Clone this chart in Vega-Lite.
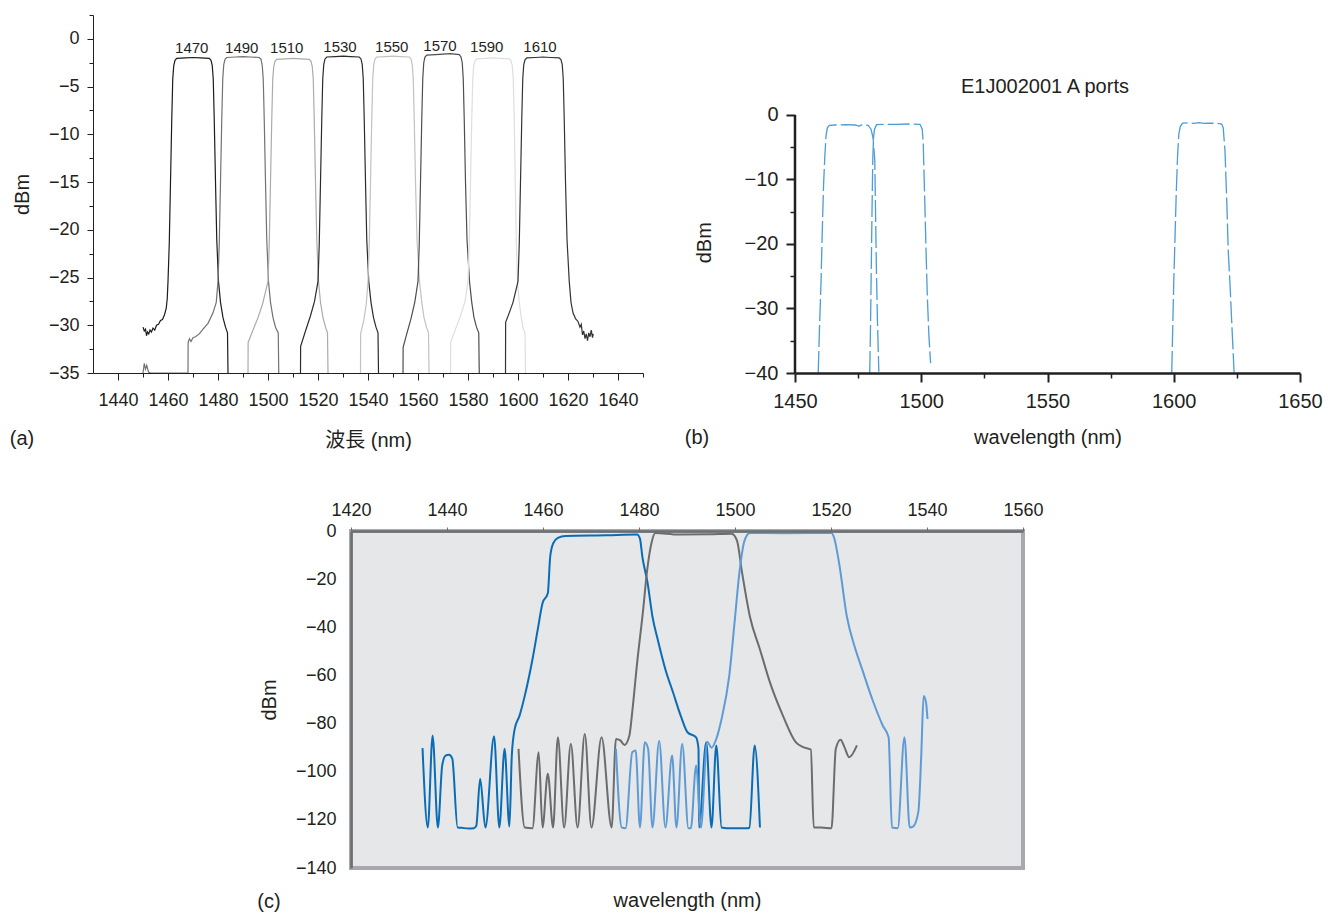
{
"$schema": "https://vega.github.io/schema/vega-lite/v6.json",
"background": "white",
"padding": {"left": 9, "top": 14, "right": 2, "bottom": 2},
"config": {
  "font": "Liberation Sans",
  "view": {"stroke": null},
  "axis": {"labelColor": "#231f20", "titleColor": "#231f20", "domainColor": "#231f20", "tickColor": "#231f20", "grid": false, "labelFont": "Liberation Sans", "titleFont": "Liberation Sans", "titleFontWeight": "normal", "labelFlush": false, "labelOverlap": false}
},
"datasets": {
  "a": [
    {"s":"1470","x":1450,"y":-30.2},{"s":"1470","x":1450.5,"y":-30.6},{"s":"1470","x":1451,"y":-30.4},{"s":"1470","x":1451.4,"y":-31.1},{"s":"1470","x":1451.8,"y":-30.7},{"s":"1470","x":1452.3,"y":-30.9},{"s":"1470","x":1452.8,"y":-30.5},{"s":"1470","x":1453.4,"y":-30.7},{"s":"1470","x":1454,"y":-30.3},{"s":"1470","x":1454.7,"y":-30.5},{"s":"1470","x":1455.4,"y":-30.0},{"s":"1470","x":1456.2,"y":-29.9},{"s":"1470","x":1457,"y":-29.5},{"s":"1470","x":1457.8,"y":-29.4},{"s":"1470","x":1458.6,"y":-28.9},{"s":"1470","x":1459.3,"y":-28.2},{"s":"1470","x":1459.7,"y":-27.2},{"s":"1470","x":1460,"y":-25.4},{"s":"1470","x":1460.5,"y":-21.5},{"s":"1470","x":1461,"y":-15},{"s":"1470","x":1461.5,"y":-8.5},{"s":"1470","x":1461.9,"y":-4.2},{"s":"1470","x":1462.3,"y":-2.8},{"s":"1470","x":1462.8,"y":-2.25},{"s":"1470","x":1463.5,"y":-2.05},{"s":"1470","x":1467,"y":-2.0},{"s":"1470","x":1470,"y":-1.95},{"s":"1470","x":1473,"y":-2.0},{"s":"1470","x":1476.5,"y":-2.05},{"s":"1470","x":1477.2,"y":-2.25},{"s":"1470","x":1477.7,"y":-2.8},{"s":"1470","x":1478.1,"y":-4.2},{"s":"1470","x":1478.5,"y":-8.5},{"s":"1470","x":1479,"y":-15},{"s":"1470","x":1479.5,"y":-21},{"s":"1470","x":1480.2,"y":-25.4},{"s":"1470","x":1481,"y":-27.6},{"s":"1470","x":1482,"y":-29.2},{"s":"1470","x":1483,"y":-30.2},{"s":"1470","x":1483.8,"y":-30.8},{"s":"1470","x":1484,"y":-35},
    {"s":"1490","x":1450,"y":-35},{"s":"1490","x":1450.5,"y":-34.0},{"s":"1490","x":1451,"y":-34.6},{"s":"1490","x":1451.5,"y":-34.2},{"s":"1490","x":1452.2,"y":-34.9},{"s":"1490","x":1453,"y":-35},{"s":"1490","x":1468,"y":-35},{"s":"1490","x":1468.05,"y":-31.8},{"s":"1490","x":1468.6,"y":-31.4},{"s":"1490","x":1469.2,"y":-31.7},{"s":"1490","x":1470,"y":-31.3},{"s":"1490","x":1471,"y":-31.2},{"s":"1490","x":1472.5,"y":-30.9},{"s":"1490","x":1474,"y":-30.4},{"s":"1490","x":1476,"y":-29.8},{"s":"1490","x":1478,"y":-28.7},{"s":"1490","x":1479.3,"y":-27.6},{"s":"1490","x":1480,"y":-25.4},{"s":"1490","x":1480.5,"y":-21.5},{"s":"1490","x":1481,"y":-15},{"s":"1490","x":1481.5,"y":-8.5},{"s":"1490","x":1481.9,"y":-4.2},{"s":"1490","x":1482.3,"y":-2.7},{"s":"1490","x":1482.8,"y":-2.15},{"s":"1490","x":1483.5,"y":-1.95},{"s":"1490","x":1487,"y":-1.9},{"s":"1490","x":1490,"y":-1.85},{"s":"1490","x":1493,"y":-1.9},{"s":"1490","x":1496.5,"y":-1.95},{"s":"1490","x":1497.2,"y":-2.15},{"s":"1490","x":1497.7,"y":-2.8},{"s":"1490","x":1498.1,"y":-4.2},{"s":"1490","x":1498.5,"y":-8.5},{"s":"1490","x":1499,"y":-15},{"s":"1490","x":1499.5,"y":-21},{"s":"1490","x":1500.2,"y":-25.4},{"s":"1490","x":1501,"y":-27.6},{"s":"1490","x":1502,"y":-29.2},{"s":"1490","x":1503,"y":-30.2},{"s":"1490","x":1504.1,"y":-30.8},{"s":"1490","x":1504.3,"y":-35},
    {"s":"1510","x":1492,"y":-35},{"s":"1510","x":1492.05,"y":-31.8},{"s":"1510","x":1494,"y":-30.5},{"s":"1510","x":1496,"y":-29.2},{"s":"1510","x":1497.8,"y":-27.8},{"s":"1510","x":1499,"y":-26.5},{"s":"1510","x":1500,"y":-25.4},{"s":"1510","x":1500.5,"y":-21.5},{"s":"1510","x":1501,"y":-15},{"s":"1510","x":1501.5,"y":-8.5},{"s":"1510","x":1501.9,"y":-4.2},{"s":"1510","x":1502.3,"y":-2.9},{"s":"1510","x":1502.8,"y":-2.35},{"s":"1510","x":1503.5,"y":-2.15},{"s":"1510","x":1507,"y":-2.1},{"s":"1510","x":1510,"y":-2.05},{"s":"1510","x":1513,"y":-2.1},{"s":"1510","x":1516.5,"y":-2.15},{"s":"1510","x":1517.2,"y":-2.35},{"s":"1510","x":1517.7,"y":-2.9},{"s":"1510","x":1518.1,"y":-4.2},{"s":"1510","x":1518.5,"y":-8.5},{"s":"1510","x":1519,"y":-15},{"s":"1510","x":1519.5,"y":-21},{"s":"1510","x":1520.2,"y":-25.4},{"s":"1510","x":1521,"y":-27.6},{"s":"1510","x":1522,"y":-29.2},{"s":"1510","x":1523,"y":-30.2},{"s":"1510","x":1523.8,"y":-30.8},{"s":"1510","x":1524,"y":-35},
    {"s":"1530","x":1513,"y":-35},{"s":"1530","x":1513.05,"y":-32.2},{"s":"1530","x":1515,"y":-30.6},{"s":"1530","x":1517,"y":-29},{"s":"1530","x":1518.6,"y":-27.5},{"s":"1530","x":1520,"y":-25.4},{"s":"1530","x":1520.5,"y":-21.5},{"s":"1530","x":1521,"y":-15},{"s":"1530","x":1521.5,"y":-8.5},{"s":"1530","x":1521.9,"y":-4.2},{"s":"1530","x":1522.3,"y":-2.7},{"s":"1530","x":1522.8,"y":-2.1},{"s":"1530","x":1523.5,"y":-1.9},{"s":"1530","x":1527,"y":-1.85},{"s":"1530","x":1530,"y":-1.8},{"s":"1530","x":1533,"y":-1.85},{"s":"1530","x":1536.5,"y":-1.9},{"s":"1530","x":1537.2,"y":-2.1},{"s":"1530","x":1537.7,"y":-2.7},{"s":"1530","x":1538.1,"y":-4.2},{"s":"1530","x":1538.5,"y":-8.5},{"s":"1530","x":1539,"y":-15},{"s":"1530","x":1539.5,"y":-21},{"s":"1530","x":1540.3,"y":-25.4},{"s":"1530","x":1541.2,"y":-27.6},{"s":"1530","x":1542.2,"y":-29.2},{"s":"1530","x":1543.2,"y":-30.2},{"s":"1530","x":1544,"y":-30.8},{"s":"1530","x":1544.2,"y":-35},
    {"s":"1550","x":1537,"y":-35},{"s":"1550","x":1537.05,"y":-30.9},{"s":"1550","x":1538.3,"y":-29.5},{"s":"1550","x":1539.3,"y":-27.8},{"s":"1550","x":1540,"y":-25.4},{"s":"1550","x":1540.5,"y":-21.5},{"s":"1550","x":1541,"y":-15},{"s":"1550","x":1541.5,"y":-8.5},{"s":"1550","x":1541.9,"y":-4.2},{"s":"1550","x":1542.3,"y":-2.7},{"s":"1550","x":1542.8,"y":-2.1},{"s":"1550","x":1543.5,"y":-1.9},{"s":"1550","x":1547,"y":-1.85},{"s":"1550","x":1550,"y":-1.8},{"s":"1550","x":1553,"y":-1.85},{"s":"1550","x":1556.5,"y":-1.9},{"s":"1550","x":1557.2,"y":-2.1},{"s":"1550","x":1557.7,"y":-2.7},{"s":"1550","x":1558.1,"y":-4.2},{"s":"1550","x":1558.5,"y":-8.5},{"s":"1550","x":1559,"y":-15},{"s":"1550","x":1559.6,"y":-21},{"s":"1550","x":1560.6,"y":-25.4},{"s":"1550","x":1561.5,"y":-27.6},{"s":"1550","x":1562.4,"y":-29.2},{"s":"1550","x":1563.4,"y":-30.2},{"s":"1550","x":1564.2,"y":-30.8},{"s":"1550","x":1564.4,"y":-35},
    {"s":"1570","x":1554,"y":-35},{"s":"1570","x":1554.05,"y":-32.3},{"s":"1570","x":1555.5,"y":-30.9},{"s":"1570","x":1557.2,"y":-29.3},{"s":"1570","x":1558.7,"y":-27.6},{"s":"1570","x":1560,"y":-25.4},{"s":"1570","x":1560.5,"y":-21.5},{"s":"1570","x":1561,"y":-15},{"s":"1570","x":1561.5,"y":-8.5},{"s":"1570","x":1561.9,"y":-4.2},{"s":"1570","x":1562.3,"y":-2.5},{"s":"1570","x":1562.8,"y":-1.9},{"s":"1570","x":1563.5,"y":-1.7},{"s":"1570","x":1567,"y":-1.65},{"s":"1570","x":1570,"y":-1.6},{"s":"1570","x":1573,"y":-1.55},{"s":"1570","x":1576.5,"y":-1.65},{"s":"1570","x":1577.2,"y":-1.9},{"s":"1570","x":1577.7,"y":-2.5},{"s":"1570","x":1578.1,"y":-4.2},{"s":"1570","x":1578.5,"y":-8.5},{"s":"1570","x":1579,"y":-15},{"s":"1570","x":1579.6,"y":-21},{"s":"1570","x":1580.6,"y":-25.4},{"s":"1570","x":1581.5,"y":-27.6},{"s":"1570","x":1582.4,"y":-29.2},{"s":"1570","x":1583.4,"y":-30.2},{"s":"1570","x":1584.3,"y":-30.8},{"s":"1570","x":1584.5,"y":-35},
    {"s":"1590","x":1573,"y":-35},{"s":"1590","x":1573.05,"y":-31.8},{"s":"1590","x":1575,"y":-30.4},{"s":"1590","x":1577,"y":-29},{"s":"1590","x":1578.8,"y":-27.5},{"s":"1590","x":1580,"y":-25.4},{"s":"1590","x":1580.5,"y":-21.5},{"s":"1590","x":1581,"y":-15},{"s":"1590","x":1581.5,"y":-8.5},{"s":"1590","x":1581.9,"y":-4.2},{"s":"1590","x":1582.3,"y":-2.8},{"s":"1590","x":1582.8,"y":-2.3},{"s":"1590","x":1583.5,"y":-2.1},{"s":"1590","x":1587,"y":-2.05},{"s":"1590","x":1590,"y":-2.0},{"s":"1590","x":1593,"y":-2.05},{"s":"1590","x":1596.5,"y":-2.1},{"s":"1590","x":1597.2,"y":-2.3},{"s":"1590","x":1597.7,"y":-2.8},{"s":"1590","x":1598.1,"y":-4.2},{"s":"1590","x":1598.5,"y":-8.5},{"s":"1590","x":1598.9,"y":-15},{"s":"1590","x":1599.3,"y":-21},{"s":"1590","x":1599.8,"y":-25.4},{"s":"1590","x":1600.5,"y":-27.6},{"s":"1590","x":1601.3,"y":-29.2},{"s":"1590","x":1602.1,"y":-30.4},{"s":"1590","x":1602.8,"y":-30.8},{"s":"1590","x":1603,"y":-35},
    {"s":"1610","x":1595,"y":-35},{"s":"1610","x":1595.05,"y":-29.7},{"s":"1610","x":1596.5,"y":-28.7},{"s":"1610","x":1598,"y":-27.6},{"s":"1610","x":1599.2,"y":-26.3},{"s":"1610","x":1600,"y":-25.4},{"s":"1610","x":1600.5,"y":-21.5},{"s":"1610","x":1601,"y":-15},{"s":"1610","x":1601.5,"y":-8.5},{"s":"1610","x":1601.9,"y":-4.2},{"s":"1610","x":1602.3,"y":-2.7},{"s":"1610","x":1602.8,"y":-2.2},{"s":"1610","x":1603.5,"y":-2.0},{"s":"1610","x":1607,"y":-1.95},{"s":"1610","x":1610,"y":-1.9},{"s":"1610","x":1613,"y":-1.95},{"s":"1610","x":1616.5,"y":-2.0},{"s":"1610","x":1617.2,"y":-2.2},{"s":"1610","x":1617.7,"y":-2.7},{"s":"1610","x":1618.1,"y":-4.2},{"s":"1610","x":1618.5,"y":-8.5},{"s":"1610","x":1619,"y":-15},{"s":"1610","x":1619.6,"y":-21},{"s":"1610","x":1620.5,"y":-25.4},{"s":"1610","x":1621.2,"y":-27.6},{"s":"1610","x":1622,"y":-28.7},{"s":"1610","x":1623,"y":-29.3},{"s":"1610","x":1624,"y":-29.6},{"s":"1610","x":1624.8,"y":-30.2},{"s":"1610","x":1625.3,"y":-29.9},{"s":"1610","x":1625.8,"y":-31.0},{"s":"1610","x":1626.3,"y":-30.6},{"s":"1610","x":1626.8,"y":-31.4},{"s":"1610","x":1627.3,"y":-30.9},{"s":"1610","x":1627.8,"y":-31.6},{"s":"1610","x":1628.3,"y":-30.8},{"s":"1610","x":1628.8,"y":-31.2},{"s":"1610","x":1629.3,"y":-30.5},{"s":"1610","x":1629.8,"y":-31.3},{"s":"1610","x":1630.1,"y":-30.9}
  ],
  "alab": [
    {"x":1469.5,"y":-1.0,"t":"1470"},{"x":1489.5,"y":-1.0,"t":"1490"},{"x":1507.5,"y":-1.0,"t":"1510"},{"x":1528.8,"y":-0.8,"t":"1530"},{"x":1549.5,"y":-0.8,"t":"1550"},{"x":1568.8,"y":-0.7,"t":"1570"},{"x":1587.5,"y":-0.8,"t":"1590"},{"x":1608.8,"y":-0.8,"t":"1610"}
  ],
  "b": [
    {"s":"1","x":1459.2,"y":-40},{"s":"1","x":1459.7,"y":-33},{"s":"1","x":1460.3,"y":-26},{"s":"1","x":1460.8,"y":-18},{"s":"1","x":1461.3,"y":-11},{"s":"1","x":1461.8,"y":-6.5},{"s":"1","x":1462.3,"y":-3.2},{"s":"1","x":1462.8,"y":-2.0},{"s":"1","x":1463.6,"y":-1.6},{"s":"1","x":1466,"y":-1.55},{"s":"1","x":1470,"y":-1.5},{"s":"1","x":1474,"y":-1.55},{"s":"1","x":1475.3,"y":-1.75},{"s":"1","x":1476.3,"y":-1.55},{"s":"1","x":1479,"y":-1.6},{"s":"1","x":1480.1,"y":-2.2},{"s":"1","x":1480.9,"y":-3.5},{"s":"1","x":1481.6,"y":-7},{"s":"1","x":1481.9,"y":-15},{"s":"1","x":1482.2,"y":-23},{"s":"1","x":1482.6,"y":-31},{"s":"1","x":1483.2,"y":-39.8},
    {"s":"2","x":1479.6,"y":-40},{"s":"2","x":1479.9,"y":-33},{"s":"2","x":1480.2,"y":-24},{"s":"2","x":1480.5,"y":-15},{"s":"2","x":1480.8,"y":-7},{"s":"2","x":1481.1,"y":-3.5},{"s":"2","x":1481.5,"y":-2.2},{"s":"2","x":1482.3,"y":-1.5},{"s":"2","x":1485,"y":-1.45},{"s":"2","x":1490,"y":-1.45},{"s":"2","x":1495,"y":-1.4},{"s":"2","x":1499.5,"y":-1.45},{"s":"2","x":1500.4,"y":-2.2},{"s":"2","x":1500.8,"y":-4.5},{"s":"2","x":1501.1,"y":-9},{"s":"2","x":1501.5,"y":-15},{"s":"2","x":1501.9,"y":-21},{"s":"2","x":1502.4,"y":-28},{"s":"2","x":1503,"y":-34},{"s":"2","x":1503.7,"y":-38.5},
    {"s":"3","x":1599.2,"y":-40},{"s":"3","x":1599.6,"y":-33},{"s":"3","x":1600,"y":-26},{"s":"3","x":1600.5,"y":-19},{"s":"3","x":1601,"y":-12},{"s":"3","x":1601.5,"y":-6.5},{"s":"3","x":1602,"y":-3},{"s":"3","x":1602.6,"y":-1.8},{"s":"3","x":1603.5,"y":-1.25},{"s":"3","x":1606,"y":-1.2},{"s":"3","x":1608,"y":-1.3},{"s":"3","x":1610,"y":-1.2},{"s":"3","x":1612,"y":-1.3},{"s":"3","x":1614,"y":-1.25},{"s":"3","x":1617,"y":-1.3},{"s":"3","x":1619,"y":-1.4},{"s":"3","x":1619.6,"y":-2},{"s":"3","x":1620.3,"y":-5.6},{"s":"3","x":1621,"y":-13.4},{"s":"3","x":1621.6,"y":-21.2},{"s":"3","x":1622.3,"y":-26.4},{"s":"3","x":1622.9,"y":-31.6},{"s":"3","x":1623.9,"y":-39.9}
  ],
  "c": [
    {"s":"c1470","x":1434.9,"y":-90.2},{"s":"c1470","x":1436,"y":-123.2},{"s":"c1470","x":1437,"y":-85},{"s":"c1470","x":1438.1,"y":-123.2},{"s":"c1470","x":1439,"y":-97.4},{"s":"c1470","x":1439.7,"y":-93.3},{"s":"c1470","x":1440.4,"y":-93},{"s":"c1470","x":1441.1,"y":-94.6},{"s":"c1470","x":1442.2,"y":-123.2},{"s":"c1470","x":1443,"y":-123.3},{"s":"c1470","x":1444.5,"y":-123.6},{"s":"c1470","x":1445.6,"y":-123.5},{"s":"c1470","x":1446.1,"y":-122.5},{"s":"c1470","x":1446.9,"y":-102.9},{"s":"c1470","x":1448,"y":-123.2},{"s":"c1470","x":1449.8,"y":-85.3},{"s":"c1470","x":1450.9,"y":-123.2},{"s":"c1470","x":1452,"y":-90.5},{"s":"c1470","x":1453,"y":-122.8},{"s":"c1470","x":1453.5,"y":-93.3},{"s":"c1470","x":1454.1,"y":-82.3},{"s":"c1470","x":1455.1,"y":-76.8},{"s":"c1470","x":1456.2,"y":-68.5},{"s":"c1470","x":1457.8,"y":-53.4},{"s":"c1470","x":1458.9,"y":-41},{"s":"c1470","x":1459.9,"y":-30},{"s":"c1470","x":1461,"y":-25.9},{"s":"c1470","x":1461.5,"y":-10.7},{"s":"c1470","x":1462.1,"y":-5.2},{"s":"c1470","x":1463.1,"y":-2.9},{"s":"c1470","x":1464.7,"y":-2.1},{"s":"c1470","x":1473.2,"y":-1.8},{"s":"c1470","x":1479.6,"y":-1.5},{"s":"c1470","x":1480.2,"y":-3.2},{"s":"c1470","x":1480.7,"y":-10.7},{"s":"c1470","x":1481.8,"y":-21.7},{"s":"c1470","x":1482.8,"y":-35.5},{"s":"c1470","x":1483.9,"y":-45.1},{"s":"c1470","x":1485.5,"y":-57.5},{"s":"c1470","x":1487.1,"y":-67.1},{"s":"c1470","x":1488.7,"y":-76.8},{"s":"c1470","x":1490.1,"y":-83.6},{"s":"c1470","x":1491.9,"y":-85.7},{"s":"c1470","x":1492.4,"y":-90.5},{"s":"c1470","x":1492.5,"y":-123.2},{"s":"c1470","x":1494,"y":-87.8},{"s":"c1470","x":1495.1,"y":-123.2},{"s":"c1470","x":1496.1,"y":-89.1},{"s":"c1470","x":1497.2,"y":-123.2},{"s":"c1470","x":1498.3,"y":-123.5},{"s":"c1470","x":1502.5,"y":-123.5},{"s":"c1470","x":1503,"y":-123.2},{"s":"c1470","x":1504.1,"y":-89.1},{"s":"c1470","x":1505.2,"y":-123.2},
    {"s":"c1490","x":1454.9,"y":-90.5},{"s":"c1490","x":1456.2,"y":-123.2},{"s":"c1490","x":1457.8,"y":-123.5},{"s":"c1490","x":1459.1,"y":-91.9},{"s":"c1490","x":1459.9,"y":-123.2},{"s":"c1490","x":1461,"y":-100.8},{"s":"c1490","x":1462.1,"y":-123.2},{"s":"c1490","x":1463.1,"y":-85.7},{"s":"c1490","x":1464.4,"y":-123.2},{"s":"c1490","x":1465.8,"y":-88.4},{"s":"c1490","x":1467.2,"y":-123.2},{"s":"c1490","x":1468.7,"y":-84.3},{"s":"c1490","x":1470.1,"y":-123.2},{"s":"c1490","x":1472.2,"y":-85.7},{"s":"c1490","x":1474.3,"y":-123.2},{"s":"c1490","x":1475.2,"y":-86.4},{"s":"c1490","x":1476.1,"y":-87},{"s":"c1490","x":1477,"y":-88.9},{"s":"c1490","x":1478,"y":-85},{"s":"c1490","x":1478.6,"y":-75},{"s":"c1490","x":1479.6,"y":-55},{"s":"c1490","x":1480.9,"y":-32},{"s":"c1490","x":1481.6,"y":-18},{"s":"c1490","x":1482.6,"y":-5},{"s":"c1490","x":1483.4,"y":-0.8},{"s":"c1490","x":1488.2,"y":-1.5},{"s":"c1490","x":1494.5,"y":-1.4},{"s":"c1490","x":1499.3,"y":-1.1},{"s":"c1490","x":1500.4,"y":-3.9},{"s":"c1490","x":1501.5,"y":-17.6},{"s":"c1490","x":1503.1,"y":-35.5},{"s":"c1490","x":1505.2,"y":-49.2},{"s":"c1490","x":1507.3,"y":-63},{"s":"c1490","x":1510,"y":-76.8},{"s":"c1490","x":1512.7,"y":-87.8},{"s":"c1490","x":1514.2,"y":-89.8},{"s":"c1490","x":1515.8,"y":-90.8},{"s":"c1490","x":1516.4,"y":-123.2},{"s":"c1490","x":1518,"y":-123.2},{"s":"c1490","x":1520.1,"y":-123.5},{"s":"c1490","x":1521,"y":-90.5},{"s":"c1490","x":1522,"y":-86.7},{"s":"c1490","x":1522.8,"y":-89.8},{"s":"c1490","x":1523.8,"y":-94},{"s":"c1490","x":1525.4,"y":-89.1},
    {"s":"c1510","x":1475.2,"y":-90.5},{"s":"c1510","x":1476.4,"y":-123.2},{"s":"c1510","x":1477.2,"y":-123.5},{"s":"c1510","x":1478.6,"y":-91.9},{"s":"c1510","x":1479.3,"y":-91.2},{"s":"c1510","x":1480.2,"y":-123.2},{"s":"c1510","x":1481.2,"y":-87.8},{"s":"c1510","x":1481.9,"y":-90.5},{"s":"c1510","x":1482.8,"y":-123.2},{"s":"c1510","x":1484.2,"y":-87.1},{"s":"c1510","x":1485.5,"y":-123.2},{"s":"c1510","x":1486.9,"y":-93.3},{"s":"c1510","x":1487.8,"y":-123.2},{"s":"c1510","x":1489,"y":-88.4},{"s":"c1510","x":1490.3,"y":-123.5},{"s":"c1510","x":1490.8,"y":-123.5},{"s":"c1510","x":1491.9,"y":-97.4},{"s":"c1510","x":1492.9,"y":-123.2},{"s":"c1510","x":1494.2,"y":-87.5},{"s":"c1510","x":1495.1,"y":-90},{"s":"c1510","x":1496.1,"y":-86.4},{"s":"c1510","x":1497.2,"y":-78.1},{"s":"c1510","x":1498.8,"y":-60.2},{"s":"c1510","x":1499.9,"y":-38.2},{"s":"c1510","x":1500.9,"y":-17.6},{"s":"c1510","x":1502,"y":-3.9},{"s":"c1510","x":1503.1,"y":-0.8},{"s":"c1510","x":1510,"y":-0.9},{"s":"c1510","x":1520.1,"y":-0.8},{"s":"c1510","x":1520.6,"y":-2.5},{"s":"c1510","x":1521.7,"y":-13.5},{"s":"c1510","x":1523.3,"y":-35.5},{"s":"c1510","x":1524.9,"y":-47.9},{"s":"c1510","x":1526.5,"y":-57.5},{"s":"c1510","x":1528.6,"y":-69.9},{"s":"c1510","x":1530.8,"y":-80.9},{"s":"c1510","x":1532,"y":-85.7},{"s":"c1510","x":1532.7,"y":-123.2},{"s":"c1510","x":1533.9,"y":-123.5},{"s":"c1510","x":1535.3,"y":-85.7},{"s":"c1510","x":1536.4,"y":-123.2},{"s":"c1510","x":1537.1,"y":-122.8},{"s":"c1510","x":1538.2,"y":-116.6},{"s":"c1510","x":1538.8,"y":-93.3},{"s":"c1510","x":1539.3,"y":-68.5},{"s":"c1510","x":1539.8,"y":-71.2},{"s":"c1510","x":1540.1,"y":-78.1}
  ]
},
"spacing": 49,
"resolve": {"scale": {"color": "independent"}},
"vconcat": [
  {
    "bounds": "flush",
    "spacing": 152,
    "resolve": {"scale": {"color": "independent"}},
    "hconcat": [
      {
        "width": 550, "height": 358,
        "layer": [
          {
            "data": {"name": "a"},
            "mark": {"type": "line", "strokeWidth": 1.2},
            "encoding": {
              "x": {"field": "x", "type": "quantitative", "scale": {"domain": [1430, 1650], "nice": false, "zero": false},
                    "axis": {"orient": "bottom", "values": [1440,1460,1480,1500,1520,1540,1560,1580,1600,1620,1640], "format": "d", "tickSize": 7, "labelFontSize": 18, "labelPadding": 11, "title": "波長 (nm)", "titleFont": "Liberation Sans, Noto Sans CJK JP", "titleFontSize": 20, "titlePadding": 21, "zindex": 1}},
              "y": {"field": "y", "type": "quantitative", "scale": {"domain": [-35, 2.5], "nice": false, "zero": false},
                    "axis": {"orient": "left", "values": [-35,-30,-25,-20,-15,-10,-5,0], "format": "d", "tickSize": 6, "labelFontSize": 18, "labelPadding": 8, "title": "dBm", "titleFontSize": 20, "titlePadding": 16, "zindex": 1}},
              "color": {"field": "s", "type": "nominal", "legend": null,
                        "scale": {"domain": ["1470","1490","1510","1530","1550","1570","1590","1610"], "range": ["#1c1c1c","#727272","#ababab","#2b2b2b","#c2c2c2","#4e4e4e","#dedede","#333333"]}}
            }
          },
          {
            "data": {"name": "alab"},
            "mark": {"type": "text", "fontSize": 15, "baseline": "middle", "color": "#231f20"},
            "encoding": {
              "x": {"field": "x", "type": "quantitative", "scale": {"domain": [1430, 1650], "nice": false, "zero": false},
                    "axis": {"orient": "bottom", "values": [1450,1470,1490,1510,1530,1550,1570,1590,1610,1630,1650], "tickSize": 4, "labels": false, "domain": false, "title": null, "zindex": 1}},
              "y": {"field": "y", "type": "quantitative", "scale": {"domain": [-35, 2.5], "nice": false, "zero": false},
                    "axis": {"orient": "left", "values": [2.5,-2.5,-7.5,-12.5,-17.5,-22.5,-27.5,-32.5], "tickSize": 4, "labels": false, "domain": false, "title": null, "zindex": 1}},
              "text": {"field": "t"}
            }
          },
          {
            "data": {"values": [{}]},
            "mark": {"type": "text", "fontSize": 20, "baseline": "middle", "color": "#231f20"},
            "encoding": {
              "x": {"datum": 1401.6, "type": "quantitative", "axis": null},
              "y": {"datum": -41.9, "type": "quantitative", "axis": null},
              "text": {"value": "(a)"}
            }
          }
        ],
        "resolve": {"axis": {"x": "independent", "y": "independent"}}
      },
      {
        "width": 505, "height": 358,
        "layer": [
          {
            "data": {"name": "b"},
            "mark": {"type": "line", "strokeWidth": 1.3, "color": "#4b9cd8", "strokeDash": [22, 4]},
            "encoding": {
              "x": {"field": "x", "type": "quantitative", "scale": {"domain": [1450, 1650], "nice": false, "zero": false},
                    "axis": {"orient": "bottom", "values": [1450,1500,1550,1600,1650], "format": "d", "tickSize": 9, "tickWidth": 2, "domainWidth": 2.5, "labelFontSize": 20, "labelPadding": 9, "title": "wavelength (nm)", "titleFontSize": 20, "titlePadding": 16, "zindex": 1}},
              "y": {"field": "y", "type": "quantitative", "scale": {"domain": [-40, 15.5], "nice": false, "zero": false},
                    "axis": {"orient": "left", "values": [-40,-30,-20,-10,0], "format": "d", "domain": false, "tickSize": 9, "tickWidth": 2, "labelFontSize": 20, "labelPadding": 8, "title": null, "zindex": 1}},
              "detail": {"field": "s"}
            }
          },
          {
            "data": {"values": [{}]},
            "mark": {"type": "rule", "color": "#231f20", "strokeWidth": 2.5},
            "encoding": {
              "x": {"datum": 1450, "type": "quantitative",
                    "axis": {"orient": "bottom", "values": [1475,1525,1575,1625], "tickSize": 5, "tickWidth": 1.5, "labels": false, "domain": false, "title": null, "zindex": 1}},
              "y": {"datum": -40, "type": "quantitative",
                    "axis": {"orient": "left", "values": [-35,-25,-15,-5], "tickSize": 5, "tickWidth": 1.5, "labels": false, "domain": false, "title": null, "zindex": 1}},
              "y2": {"datum": 0}
            }
          },
          {
            "data": {"values": [{}]},
            "mark": {"type": "text", "fontSize": 20, "baseline": "middle", "color": "#231f20"},
            "encoding": {
              "x": {"datum": 1549, "type": "quantitative", "axis": null},
              "y": {"datum": 4.3, "type": "quantitative", "axis": null},
              "text": {"value": "E1J002001 A ports"}
            }
          },
          {
            "data": {"values": [{}]},
            "mark": {"type": "text", "fontSize": 20, "baseline": "middle", "color": "#231f20", "angle": 270},
            "encoding": {
              "x": {"datum": 1414.4, "type": "quantitative", "axis": null},
              "y": {"datum": -19.8, "type": "quantitative", "axis": null},
              "text": {"value": "dBm"}
            }
          },
          {
            "data": {"values": [{}]},
            "mark": {"type": "text", "fontSize": 20, "baseline": "middle", "color": "#231f20"},
            "encoding": {
              "x": {"datum": 1411.2, "type": "quantitative", "axis": null},
              "y": {"datum": -50.1, "type": "quantitative", "axis": null},
              "text": {"value": "(b)"}
            }
          }
        ],
        "resolve": {"axis": {"x": "independent", "y": "independent"}}
      }
    ]
  },
  {
    "bounds": "flush",
    "spacing": 0,
    "resolve": {"scale": {"color": "independent"}},
    "hconcat": [
      {
        "width": 258, "height": 1,
        "data": {"values": [{}]},
        "mark": {"type": "text"},
        "encoding": {"text": {"value": ""}}
      },
      {
        "width": 672, "height": 337,
        "view": {"fill": "#e6e7e8", "stroke": "#a7a9ac", "strokeWidth": 4},
        "layer": [
          {
            "data": {"name": "c"},
            "mark": {"type": "line", "strokeWidth": 2, "interpolate": "monotone"},
            "encoding": {
              "x": {"field": "x", "type": "quantitative", "scale": {"domain": [1420, 1560], "nice": false, "zero": false},
                    "axis": {"orient": "top", "values": [1420,1440,1460,1480,1500,1520,1540,1560], "format": "d", "tickSize": 4, "tickColor": "#6d6e71", "domainColor": "#6d6e71", "domainWidth": 2.5, "labelFontSize": 18, "labelPadding": 8, "title": null, "zindex": 1}},
              "y": {"field": "y", "type": "quantitative", "scale": {"domain": [-140, 0], "nice": false, "zero": false},
                    "axis": {"orient": "left", "values": [-140,-120,-100,-80,-60,-40,-20,0], "format": "d", "ticks": false, "domainColor": "#6d6e71", "domainWidth": 2.5, "labelFontSize": 18, "labelPadding": 15, "title": "dBm", "titleFontSize": 20, "titlePadding": 16, "zindex": 1}},
              "color": {"field": "s", "type": "nominal", "legend": null,
                        "scale": {"domain": ["c1470","c1490","c1510"], "range": ["#0b6cb6","#6b6c6e","#5e9bd6"]}}
            }
          },
          {
            "data": {"values": [{}]},
            "mark": {"type": "text", "fontSize": 20, "baseline": "middle", "color": "#231f20"},
            "encoding": {
              "x": {"datum": 1402.9, "type": "quantitative",
                    "axis": {"orient": "bottom", "labels": false, "ticks": false, "domain": false, "title": "wavelength (nm)", "titleFontSize": 20, "titlePadding": 22}},
              "y": {"datum": -154.1, "type": "quantitative", "axis": null},
              "text": {"value": "(c)"}
            }
          }
        ],
        "resolve": {"axis": {"x": "independent", "y": "independent"}}
      }
    ]
  }
]
}
